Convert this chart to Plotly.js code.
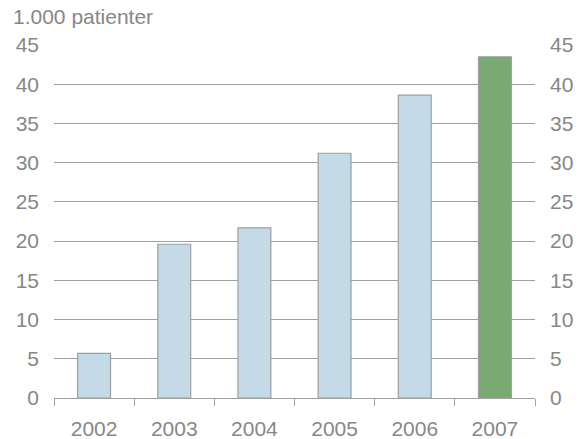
<!DOCTYPE html>
<html><head><meta charset="utf-8">
<script src="https://cdn.plot.ly/plotly-3.0.1.min.js"></script>
<style>body{margin:0;padding:0;background:#fff}</style>
</head><body>
<div id="chart" style="width:586px;height:439px"></div>
<script>
const years = ["2002","2003","2004","2005","2006","2007"];
const patients = [5.7, 19.6, 21.7, 31.2, 38.6, 43.5];
const barColors = ["#c4dbe7","#c4dbe7","#c4dbe7","#c4dbe7","#c4dbe7","#78aa72"];
const yTicks = [0,5,10,15,20,25,30,35,40,45];

const gray = "#878787";
const fontFam = "Liberation Sans, Arial, sans-serif";

const traces = [
  {type:"bar", x:years, y:patients, width:0.41,
   marker:{color:barColors, line:{color:"#9a9fa3", width:1.2}},
   hoverinfo:"skip", xaxis:"x", yaxis:"y"},
  {type:"scatter", mode:"none", x:years, y:patients, xaxis:"x", yaxis:"y2", showlegend:false, hoverinfo:"skip"}
];

const layout = {
  width:586, height:439,
  margin:{l:54, r:51, t:45, b:41},
  paper_bgcolor:"#fff", plot_bgcolor:"#fff",
  showlegend:false,
  font:{family:fontFam, color:gray, size:21},
  title:{text:"1.000 patienter", x:13/586, xanchor:"left", xref:"container", y:1-17/439, yanchor:"middle", yref:"container",
         font:{family:fontFam, size:21, color:gray}},
  xaxis:{type:"category", tickson:"boundaries", ticks:"outside", ticklen:7, tickcolor:"#a0a0a0", tickwidth:1,
         showline:true, linecolor:"#a0a0a0", linewidth:1, showgrid:false, zeroline:false,
         tickfont:{size:21, color:gray}, range:[-0.5,5.5], ticklabelstandoff:12},
  yaxis:{range:[0,45], tickvals:yTicks, ticks:"", showgrid:true, gridcolor:"#a0a0a0", gridwidth:1,
         zeroline:false, showline:false, tickfont:{size:21, color:gray}, ticklabelstandoff:14},
  yaxis2:{range:[0,45], tickvals:yTicks, overlaying:"y", side:"right", showgrid:false, zeroline:false,
          showline:false, tickfont:{size:21, color:gray}, ticklabelstandoff:14}
};

Plotly.newPlot("chart", traces, layout, {displayModeBar:false, staticPlot:true});
</script>
</body></html>
